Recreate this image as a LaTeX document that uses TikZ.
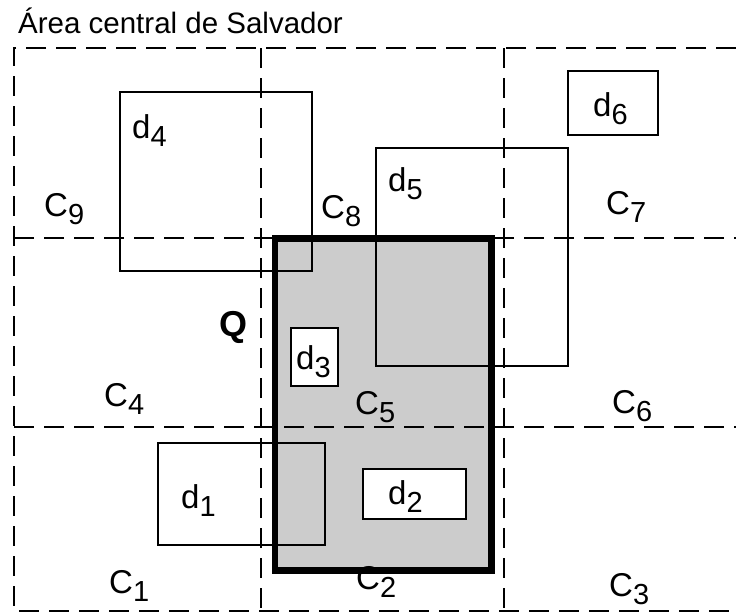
\documentclass[tikz,border=0pt]{standalone}
\usepackage{fontspec}
\setmainfont{Liberation Sans}

% label with a lowered index
\newcommand{\cellname}[2]{#1\raisebox{-8pt}{\fontsize{29}{29}\selectfont #2}}

\begin{document}
\begin{tikzpicture}[x=1pt,y=-1pt,
        grid/.style={draw=black,line width=2pt,dash pattern=on 20pt off 10pt},
        doc/.style={draw=black,line width=2pt},
        query/.style={draw=black,line width=6.5pt}]
            \useasboundingbox (0,0) rectangle (736,613);

            % query region Q (fill first, grid goes over it)
            \fill[black!20] (275,238.5) rectangle (491.5,570.5);

            % grid cells
            \draw[grid] (736,48) -- (14,48) -- (14,611) -- (736,611);
            \draw[grid] (14,238) -- (736,238);
            \draw[grid] (14,427) -- (736,427);
            \draw[grid] (261,48) -- (261,611);
            \draw[grid] (504,48) -- (504,611);

            \draw[query] (275,238.5) rectangle (491.5,570.5);

            % documents
            \draw[doc] (120,92) rectangle (312,271);
            \draw[doc] (376,148) rectangle (568,366);
            \draw[doc,fill=white] (568,71) rectangle (658,135);
            \draw[doc,fill=white] (291,328) rectangle (338,386);
            \draw[doc] (158,443) rectangle (325,545);
            \draw[doc,fill=white] (363,469) rectangle (466,519);

            \node (title) [anchor=base west,inner sep=0pt,font=\fontsize{29.5}{34}\selectfont] at (18,33) {Área central de Salvador};

            \begin{scope}[every node/.style={anchor=base west,inner sep=0pt,font=\fontsize{33}{38}\selectfont}]
                \node (C9) at (44,216) {\cellname{C}{9}};
                \node (C8) at (321,218) {\cellname{C}{8}};
                \node (C7) at (606,214) {\cellname{C}{7}};
                \node (C4) at (104,406) {\cellname{C}{4}};
                \node (C5) at (355,414) {\cellname{C}{5}};
                \node (C6) at (612,413) {\cellname{C}{6}};
                \node (C1) at (109,593) {\cellname{C}{1}};
                \node (C2) at (356,589) {\cellname{C}{2}};
                \node (C3) at (609,596) {\cellname{C}{3}};
            \end{scope}

            \begin{scope}[every node/.style={anchor=base west,inner sep=0pt,font=\fontsize{33}{38}\selectfont}]
                \node (d4) at (132,138) {\cellname{d}{4}};
                \node (d5) at (388,191) {\cellname{d}{5}};
                \node (d6) at (593,116) {\cellname{d}{6}};
                \node (d3) at (296,369) {\cellname{d}{3}};
                \node (d1) at (181,508) {\cellname{d}{1}};
                \node (d2) at (388,504) {\cellname{d}{2}};
                \node (Q) [font=\fontsize{36}{40}\selectfont\bfseries] at (219,336) {Q};
            \end{scope}
        \end{tikzpicture}
\end{document}
